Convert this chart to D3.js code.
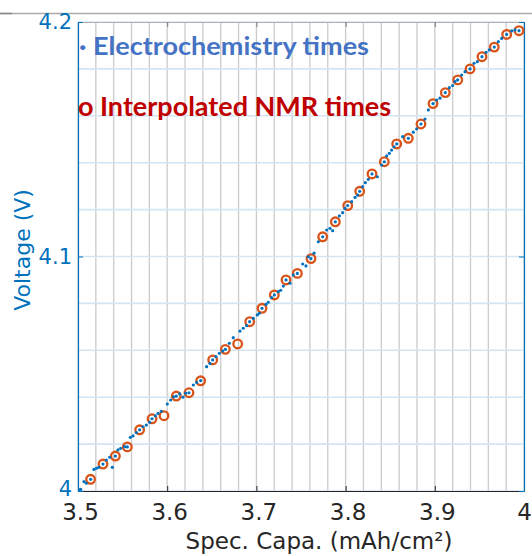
<!DOCTYPE html>
<html><head><meta charset="utf-8">
<script src="https://cdn.jsdelivr.net/npm/d3@7"></script>
<style>body{margin:0;background:#fff}svg{display:block}</style>
</head><body><svg id="c" width="532" height="556"></svg>
<script>
const xTicks = [3.5, 3.6, 3.7, 3.8, 3.9, 4.0];
const yTicks = [4.0, 4.1, 4.2];
const xLabel = "Spec. Capa. (mAh/cm²)";
const yLabel = "Voltage (V)";
const legendEC = "· Electrochemistry times";
const legendNMR = "o Interpolated NMR times";

const ecX = [3.5022,3.5030,3.5067,3.5093,3.5142,3.5179,3.5206,3.5232,3.5280,3.5318,3.5355,3.5385,3.5419,3.5448,3.5478,3.5523,3.5553,3.5587,3.5617,3.5654,3.5691,3.5729,3.5766,3.5803,3.5830,3.5867,3.5897,3.5934,3.6001,3.6039,3.6073,3.6102,3.6140,3.6177,3.6207,3.6244,
3.6293,3.6330,3.6375,3.6442,3.6480,3.6510,3.6547,3.6585,3.6622,3.6652,3.6697,3.6741,3.6816,3.6853,3.6891,3.6924,3.6966,3.7010,3.7033,3.7063,3.7108,3.7134,3.7171,3.7201,3.7246,3.7272,3.7302,3.7332,3.7377,3.7414,3.7459,
3.7519,3.7556,3.7582,3.7612,3.7646,3.7694,3.7743,3.7788,3.7825,3.7855,3.7885,3.7930,3.7967,3.7993,3.8023,3.8068,3.8106,3.8135,3.8158,3.8191,3.8221,3.8255,3.8296,3.8356,3.8404,3.8434,3.8460,3.8490,3.8516,3.8543,3.8573,
3.8640,3.8703,3.8759,3.8797,3.8845,3.8890,3.8928,3.8980,3.9021,3.9058,3.9118,3.9163,3.9200,3.9227,3.9256,3.9301,3.9339,3.9395,3.9440,3.9477,3.9529,3.9574,3.9611,3.9667,3.9712,3.9750,3.9806,3.9862,3.9899,3.9944];
const ecV = [4.0005,4.0007,4.0040,4.0033,4.0050,4.0092,4.0097,4.0101,4.0115,4.0132,4.0144,4.0101,4.0149,4.0175,4.0182,4.0189,4.0188,4.0229,4.0235,4.0249,4.0261,4.0274,4.0281,4.0293,4.0308,4.0320,4.0331,4.0340,4.0371,4.0388,4.0402,4.0405,4.0414,4.0400,4.0417,4.0419,
4.0452,4.0463,4.0471,4.0530,4.0544,4.0559,4.0573,4.0587,4.0597,4.0604,4.0630,4.0654,4.0682,4.0694,4.0705,4.0722,4.0736,4.0751,4.0758,4.0779,4.0796,4.0805,4.0825,4.0836,4.0850,4.0856,4.0874,4.0900,4.0886,4.0921,4.0928,
4.0968,4.0960,4.0999,4.0991,4.1014,4.1063,4.1084,4.1113,4.1120,4.1110,4.1148,4.1173,4.1187,4.1205,4.1217,4.1234,4.1252,4.1262,4.1278,4.1298,4.1315,4.1329,4.1352,4.1340,4.1390,4.1404,4.1429,4.1440,4.1454,4.1468,4.1480,
4.1511,4.1504,4.1530,4.1544,4.1565,4.1586,4.1625,4.1652,4.1667,4.1675,4.1699,4.1720,4.1729,4.1746,4.1753,4.1774,4.1788,4.1800,4.1824,4.1831,4.1852,4.1871,4.1881,4.1893,4.1916,4.1930,4.1947,4.1962,4.1966,4.1963];

const nmrX = [3.5141,3.5280,3.5419,3.5553,3.5691,3.5830,3.5964,3.6102,3.6244,3.6375,3.6510,3.6652,3.6790,3.6925,3.7063,3.7201,3.7332,3.7459,3.7612,3.7743,3.7885,3.8024,3.8158,3.8296,3.8434,3.8573,3.8703,3.8845,3.8980,3.9118,3.9257,3.9395,3.9529,3.9667,3.9806,3.9944];
const nmrV = [4.0050,4.0115,4.0149,4.0188,4.0261,4.0308,4.0321,4.0405,4.0419,4.0470,4.0559,4.0604,4.0627,4.0722,4.0779,4.0836,4.0900,4.0928,4.0991,4.1084,4.1148,4.1217,4.1278,4.1352,4.1404,4.1480,4.1504,4.1565,4.1652,4.1699,4.1753,4.1800,4.1852,4.1893,4.1947,4.1963];

const L = 78, R = 524, T = 22, B = 491;
const svg = d3.select("#c");
const x = d3.scaleLinear().domain([3.5, 4.0]).range([L, R]);
const y = d3.scaleLinear().domain([4.0, 4.2]).range([B, T]);
const FONT = "'DejaVu Sans', Verdana, sans-serif";

// top gray line (page edge)
svg.append("line").attr("x1", 0).attr("x2", 532).attr("y1", 13.5).attr("y2", 13.5).attr("stroke", "#aaa").attr("stroke-width", 1.5);
svg.append("line").attr("x1", 0).attr("x2", 12).attr("y1", 13.5).attr("y2", 13.5).attr("stroke", "#888").attr("stroke-width", 1.5);

// grid
const g = svg.append("g");
g.selectAll(".vg").data(x.ticks(25)).join("line")
  .attr("x1", d => x(d)).attr("x2", d => x(d)).attr("y1", T).attr("y2", B)
  .attr("stroke", "#cbcbcb").attr("stroke-width", 1.3);
g.selectAll(".hg").data(y.ticks(10)).join("line")
  .attr("x1", L).attr("x2", R).attr("y1", d => y(d)).attr("y2", d => y(d))
  .attr("stroke", "#d3e5f3").attr("stroke-width", 1.6);

// axes
const fmt = d => (Math.abs(d - Math.round(d)) < 1e-9 ? String(Math.round(d)) : d.toFixed(1));
const ax = svg.append("g").attr("transform", `translate(0,${B})`)
  .call(d3.axisBottom(x).tickValues(xTicks).tickSize(-5).tickSizeOuter(0).tickPadding(13).tickFormat(fmt));
ax.select(".domain").attr("stroke", "#262626").attr("stroke-width", 1);
ax.selectAll(".tick line").attr("stroke", "#262626");
ax.selectAll("text").attr("fill", "#262626").style("font-family", FONT).style("font-size", "23px")
  .attr("dx", d => (d === 4 ? 0 : 2));

const axT = svg.append("g").attr("transform", `translate(0,${T})`)
  .call(d3.axisTop(x).tickValues(xTicks).tickSize(-5).tickSizeOuter(0).tickFormat(""));
axT.select(".domain").attr("stroke", "#b0b0b0").attr("stroke-width", 1);
axT.selectAll(".tick line").attr("stroke", "#777");

const ay = svg.append("g").attr("transform", `translate(${L},0)`)
  .call(d3.axisLeft(y).tickValues(yTicks).tickSize(-5).tickSizeOuter(0).tickPadding(6).tickFormat(fmt));
ay.select(".domain").attr("stroke", "#0072BD").attr("stroke-width", 1.2);
ay.selectAll(".tick line").attr("stroke", "#0072BD");
ay.selectAll("text").attr("fill", "#0072BD").style("font-family", FONT).style("font-size", "21px")
  .attr("dy", d => (d === 4 ? "0.22em" : "0.32em"));

const ayR = svg.append("g").attr("transform", `translate(${R},0)`)
  .call(d3.axisRight(y).tickValues(yTicks).tickSize(-5).tickSizeOuter(0).tickFormat(""));
ayR.select(".domain").attr("stroke", "#0072BD").attr("stroke-width", 1.2);
ayR.selectAll(".tick line").attr("stroke", "#0072BD");

// axis labels
svg.append("text").attr("x", 319).attr("y", 549).attr("text-anchor", "middle")
  .attr("fill", "#262626").style("font-family", FONT).style("font-size", "23px").text(xLabel);
svg.append("text").attr("transform", "translate(30,250) rotate(-90)").attr("text-anchor", "middle")
  .attr("fill", "#0072BD").style("font-family", FONT).style("font-size", "22px").text(yLabel);

// data: NMR circles then EC dots
svg.append("g").selectAll("circle").data(nmrX.map((d, i) => [d, nmrV[i]])).join("circle")
  .attr("cx", d => x(d[0])).attr("cy", d => y(d[1])).attr("r", 4.3)
  .attr("fill", "none").attr("stroke", "#D95319").attr("stroke-width", 2.3);
svg.append("g").selectAll("circle").data(ecX.map((d, i) => [d, ecV[i]])).join("circle")
  .attr("cx", d => x(d[0])).attr("cy", d => y(d[1])).attr("r", 1.6)
  .attr("fill", "#0072BD");

// legend texts
svg.append("text").attr("x", 79).attr("y", 55).attr("fill", "#4472C4")
  .style("font-family", "Lato, 'Open Sans', sans-serif").style("font-weight", "bold").style("font-size", "25px")
  .attr("textLength", 290).attr("lengthAdjust", "spacingAndGlyphs").text(legendEC);
svg.append("text").attr("x", 78).attr("y", 116).attr("fill", "#C00000")
  .style("font-family", "Lato, 'Open Sans', sans-serif").style("font-weight", "bold").style("font-size", "26px")
  .attr("textLength", 313).attr("lengthAdjust", "spacingAndGlyphs").text(legendNMR);
</script></body></html>
